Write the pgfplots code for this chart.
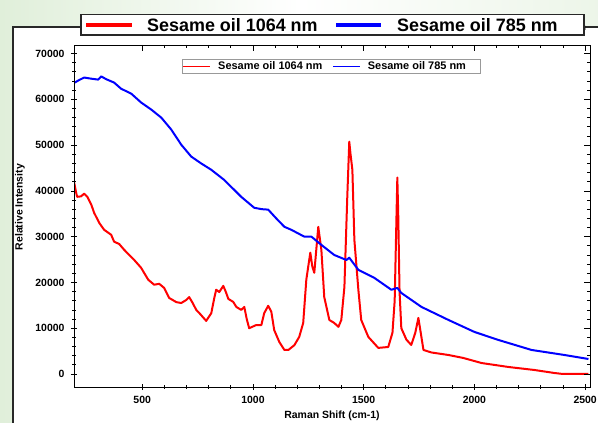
\documentclass[border=0pt]{standalone}
\usepackage{fontspec}
\setmainfont{Liberation Sans}
\usepackage{pgfplots}
\pgfplotsset{compat=1.18}
\definecolor{slidegreen}{RGB}{224,239,218}
\definecolor{framegray}{RGB}{40,40,40}
\begin{document}
\begin{tikzpicture}
\useasboundingbox (0,0) rectangle (598bp,423bp);
% slide background
\shade[left color=slidegreen, right color=white] (0,0) rectangle (300bp,423bp);
\shade[left color=white, right color=slidegreen!60] (300bp,0) rectangle (598bp,423bp);
\fill[white] (13bp,0) rectangle (598bp,396bp);
\draw[framegray, line width=1.4bp] (13bp,0) -- (13bp,396bp) -- (598bp,396bp);
% common axis geometry
\pgfplotsset{
  myaxis/.style={
    at={(74bp,36bp)}, anchor=south west,
    scale only axis, width=516bp, height=342bp,
    xmin=192, xmax=2522, ymin=-2840, ymax=71860,
    xtick={500,1000,1500,2000,2500},
    ytick={0,10000,...,70000},
    minor x tick num=4, minor y tick num=4,
    axis line style={black, line width=0.9bp},
    major tick length=6bp, minor tick length=3.5bp,
    every tick/.style={black, line width=0.7bp},
  }
}
\begin{axis}[myaxis,
  tick align=center,
  xtick pos=bottom, ytick pos=left,
  /pgf/number format/assume math mode=true,
  scaled ticks=false,
  xticklabel={\pgfmathprintnumber[1000 sep={}]{\tick}},
  yticklabel={\pgfmathprintnumber[1000 sep={}]{\tick}},
  ticklabel style={font=\bfseries\fontsize{10.5}{12}\selectfont},
  xticklabel style={yshift=-3bp},
  yticklabel style={xshift=-3bp},
  xlabel={Raman Shift (cm-1)},
  ylabel={Relative Intensity},
  label style={font=\bfseries\fontsize{10.5}{12}\selectfont},
  xlabel style={at={(axis description cs:0.5,-0.085)}, anchor=center},
  ylabel style={at={(axis description cs:-0.105,0.526)}, anchor=center},
  legend style={at={(axis description cs:0.209,0.959)}, anchor=north west,
    legend columns=2, draw=gray!80, line width=0.8bp,
    font=\bfseries\fontsize{11}{12}\selectfont,
    inner sep=0.5bp, row sep=-1bp,
    /tikz/every even column/.append style={column sep=8bp}},
  legend image code/.code={\draw[#1, line width=1.5bp] (0bp,0bp) -- (27bp,0bp);},
]
\addplot[red, line width=2bp, line join=round] coordinates {
(193,41800) (200,40000) (206,38700) (224,38800) (238,39400) (252,38700)
(270,37000) (283,35200) (306,33000) (328,31500) (360,30400) (373,28900)
(396,28400) (419,27100) (464,24900) (495,23200) (527,20600) (554,19500)
(577,19700) (599,18800) (622,16600) (654,15700) (676,15500) (700,16200)
(712,16800) (728,15500) (744,14000) (758,13300) (789,11600) (812,13300)
(825,16500) (834,18400) (848,17900) (866,19250) (877,18000) (889,16400)
(911,15750) (925,14650) (947,14000) (961,14650) (972,12000) (983,10000)
(1015,10700) (1038,10700) (1051,13300) (1069,14900) (1083,13600) (1096,9600)
(1119,7000) (1142,5250) (1160,5250) (1187,6300) (1209,8100) (1227,11150)
(1241,20600) (1259,26500) (1268,23500) (1277,22100) (1295,32150) (1309,27100)
(1322,16800) (1345,11800) (1367,11150) (1386,10300) (1399,11800) (1413,19000)
(1426,38700) (1435,50750) (1440,48300) (1449,44600) (1458,29300) (1476,18400)
(1489,11800) (1521,8100) (1566,5700) (1611,5900) (1630,9000) (1640,16000)
(1648,34000) (1652,42900) (1656,35000) (1662,18000) (1670,10000) (1693,7500)
(1715,6340) (1733,9000) (1747,12250) (1761,8000) (1770,5250) (1806,4700)
(1883,4150) (1950,3500) (2032,2400) (2154,1530) (2271,875) (2361,220)
(2400,0) (2515,0)
};
\addlegendentry{\rule{5bp}{0pt}Sesame oil 1064 nm}
\addplot[blue, line width=2bp, line join=round] coordinates {
(193,63600) (215,64200) (238,64750) (270,64500) (301,64300) (315,65000)
(337,64400) (373,63650) (405,62300) (450,61250) (495,59300) (541,57750)
(586,56000) (631,53400) (676,50100) (721,47500) (766,46000) (812,44600)
(870,42400) (947,38700) (1006,36300) (1040,36000) (1069,35900) (1105,34000)
(1142,32150) (1173,31500) (1232,30000) (1264,30000) (1309,28200) (1367,26000)
(1422,24900) (1435,25400) (1476,22750) (1548,21000) (1625,18400) (1652,18800)
(1670,17700) (1761,14650) (1883,11800) (2000,9190) (2108,7440) (2258,5250)
(2407,4150) (2515,3280)
};
\addlegendentry{\rule{5bp}{0pt}Sesame oil 785 nm\rule{12bp}{0pt}}
\end{axis}
\begin{axis}[myaxis,
  tick align=inside,
  xtick pos=top, ytick pos=right,
  xticklabels={}, yticklabels={},
]
\end{axis}
% big top legend
\draw[framegray, line width=1.2bp, fill=white] (81bp,388bp) rectangle (584bp,408.5bp);
\draw[red, line width=4bp] (86bp,398bp) -- (132bp,398bp);
\draw[blue, line width=4bp] (336bp,398bp) -- (381bp,398bp);
\node[anchor=west, inner sep=0pt, font=\bfseries\fontsize{18}{20}\selectfont] at (147bp,398bp) {Sesame oil 1064 nm};
\node[anchor=west, inner sep=0pt, font=\bfseries\fontsize{18}{20}\selectfont] at (397bp,398bp) {Sesame oil 785 nm};
\end{tikzpicture}
\end{document}
